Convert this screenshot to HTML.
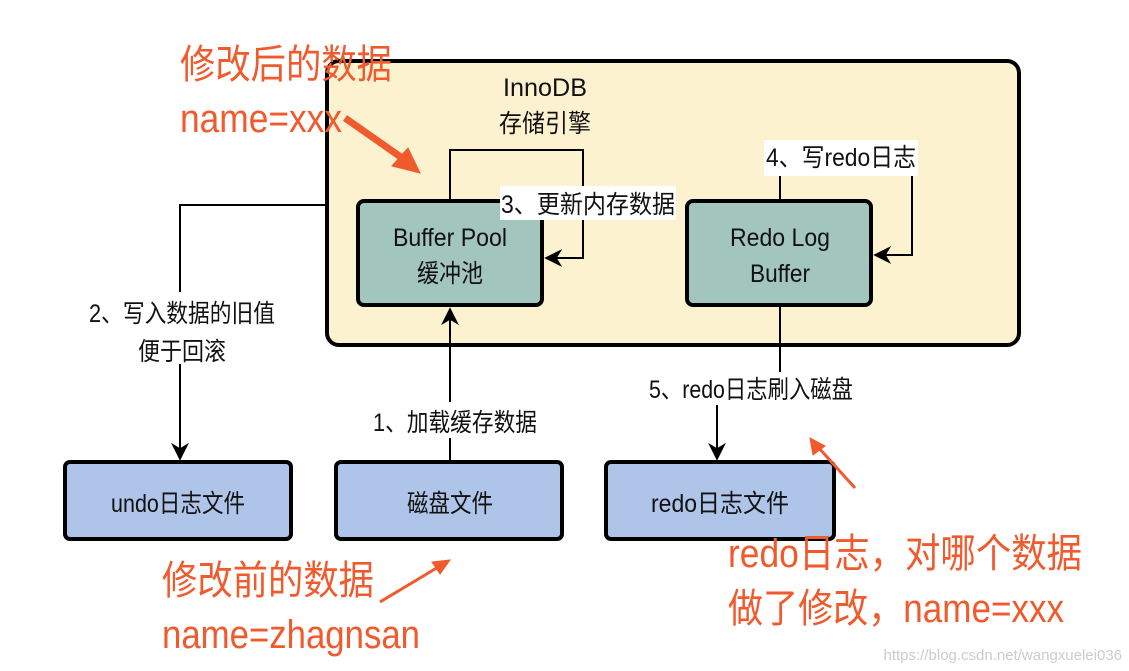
<!DOCTYPE html>
<html><head><meta charset="utf-8"><style>
html,body{margin:0;padding:0;background:#fff;}
svg{display:block;}
text{font-family:"Liberation Sans","Noto Sans CJK SC",sans-serif;}
</style></head><body>
<svg width="1129" height="671" viewBox="0 0 1129 671" xmlns="http://www.w3.org/2000/svg">
<defs>
<marker id="ah" viewBox="0 0 10 10" refX="9" refY="5" markerWidth="18" markerHeight="18" orient="auto" markerUnits="userSpaceOnUse">
<path d="M0,0 L10,5 L0,10 L3,5 Z" fill="#000"/></marker>
</defs>
<rect x="0" y="0" width="1129" height="671" fill="#fff"/>
<rect x="327" y="61" width="692" height="284" rx="12" fill="#fdf2d0" stroke="#000" stroke-width="4"/>
<text x="545" y="96" font-size="25" text-anchor="middle" fill="#111" textLength="84" lengthAdjust="spacingAndGlyphs">InnoDB</text>
<text x="545" y="132" font-size="25" text-anchor="middle" fill="#111" textLength="92" lengthAdjust="spacingAndGlyphs">存储引擎</text>

<g stroke="#000" stroke-width="2" fill="none">
<polyline points="326,205 180,205 180,448"/>
<line x1="180" y1="440" x2="180" y2="459" marker-end="url(#ah)"/>
<line x1="450" y1="460" x2="450" y2="309" marker-end="url(#ah)"/>
<polyline points="450,200 450,150 583,150 583,258 546,258" marker-end="url(#ah)"/>
<polyline points="780,200 780,157 912,157 912,255 875,255" marker-end="url(#ah)"/>
<line x1="780" y1="306" x2="780" y2="372"/>
<line x1="717" y1="405" x2="717" y2="459" marker-end="url(#ah)"/>
</g>

<rect x="358" y="201" width="184" height="104" rx="6" fill="#a2c5bd" stroke="#000" stroke-width="4"/>
<text x="450" y="246" font-size="25" text-anchor="middle" fill="#111" textLength="114" lengthAdjust="spacingAndGlyphs">Buffer Pool</text>
<text x="450" y="282" font-size="25" text-anchor="middle" fill="#111" textLength="66" lengthAdjust="spacingAndGlyphs">缓冲池</text>
<rect x="687" y="201" width="184" height="104" rx="6" fill="#a2c5bd" stroke="#000" stroke-width="4"/>
<text x="780" y="246" font-size="25" text-anchor="middle" fill="#111" textLength="100" lengthAdjust="spacingAndGlyphs">Redo Log</text>
<text x="780" y="282" font-size="25" text-anchor="middle" fill="#111" textLength="60" lengthAdjust="spacingAndGlyphs">Buffer</text>

<rect x="65" y="462" width="226" height="77" rx="5" fill="#aec4e8" stroke="#000" stroke-width="4"/>
<text x="178" y="512" font-size="25" text-anchor="middle" fill="#111" textLength="134" lengthAdjust="spacingAndGlyphs">undo日志文件</text>
<rect x="336" y="462" width="226" height="77" rx="5" fill="#aec4e8" stroke="#000" stroke-width="4"/>
<text x="450" y="512" font-size="25" text-anchor="middle" fill="#111" textLength="86" lengthAdjust="spacingAndGlyphs">磁盘文件</text>
<rect x="606" y="462" width="228" height="77" rx="5" fill="#aec4e8" stroke="#000" stroke-width="4"/>
<text x="720" y="512" font-size="25" text-anchor="middle" fill="#111" textLength="138" lengthAdjust="spacingAndGlyphs">redo日志文件</text>

<rect x="78" y="292" width="206" height="72" fill="#fff"/>
<text x="182" y="322" font-size="25" text-anchor="middle" fill="#111" textLength="186" lengthAdjust="spacingAndGlyphs">2、写入数据的旧值</text>
<text x="182" y="360" font-size="25" text-anchor="middle" fill="#111" textLength="88" lengthAdjust="spacingAndGlyphs">便于回滚</text>
<rect x="365" y="402" width="180" height="36" fill="#fff"/>
<text x="455" y="431" font-size="25" text-anchor="middle" fill="#111" textLength="164" lengthAdjust="spacingAndGlyphs">1、加载缓存数据</text>
<rect x="500" y="186" width="176" height="34" fill="#fff"/>
<text x="588" y="213" font-size="25" text-anchor="middle" fill="#111" textLength="174" lengthAdjust="spacingAndGlyphs">3、更新内存数据</text>
<rect x="764" y="140" width="154" height="36" fill="#fff"/>
<text x="841" y="166" font-size="25" text-anchor="middle" fill="#111" textLength="150" lengthAdjust="spacingAndGlyphs">4、写redo日志</text>
<rect x="648" y="372" width="208" height="32" fill="#fff"/>
<text x="751" y="398" font-size="25" text-anchor="middle" fill="#111" textLength="204" lengthAdjust="spacingAndGlyphs">5、redo日志刷入磁盘</text>

<g fill="#f05a2c">
<text x="180" y="78" font-size="40" textLength="212" lengthAdjust="spacingAndGlyphs">修改后的数据</text>
<text x="180" y="132" font-size="40" textLength="162" lengthAdjust="spacingAndGlyphs">name=xxx</text>
<text x="162" y="594" font-size="40" textLength="212" lengthAdjust="spacingAndGlyphs">修改前的数据</text>
<text x="162" y="648" font-size="40" textLength="258" lengthAdjust="spacingAndGlyphs">name=zhagnsan</text>
<text x="728" y="567" font-size="40" textLength="354" lengthAdjust="spacingAndGlyphs">redo日志，对哪个数据</text>
<text x="728" y="622" font-size="40" textLength="336" lengthAdjust="spacingAndGlyphs">做了修改，name=xxx</text>
</g>
<g stroke="#f05a2c" fill="#f05a2c">
<line x1="345" y1="118" x2="405" y2="160" stroke-width="7"/>
<polygon points="420,173 392,166 408,148"/>
<line x1="380" y1="602" x2="440" y2="566" stroke-width="3"/>
<polygon points="450,560 432,562 440,574"/>
<line x1="855" y1="488" x2="818" y2="447" stroke-width="3"/>
<polygon points="810,438 813,455 825,446"/>
</g>
<text x="1122" y="660" font-size="15" text-anchor="end" fill="#ccc">https://blog.csdn.net/wangxuelei036</text>
</svg>
</body></html>
